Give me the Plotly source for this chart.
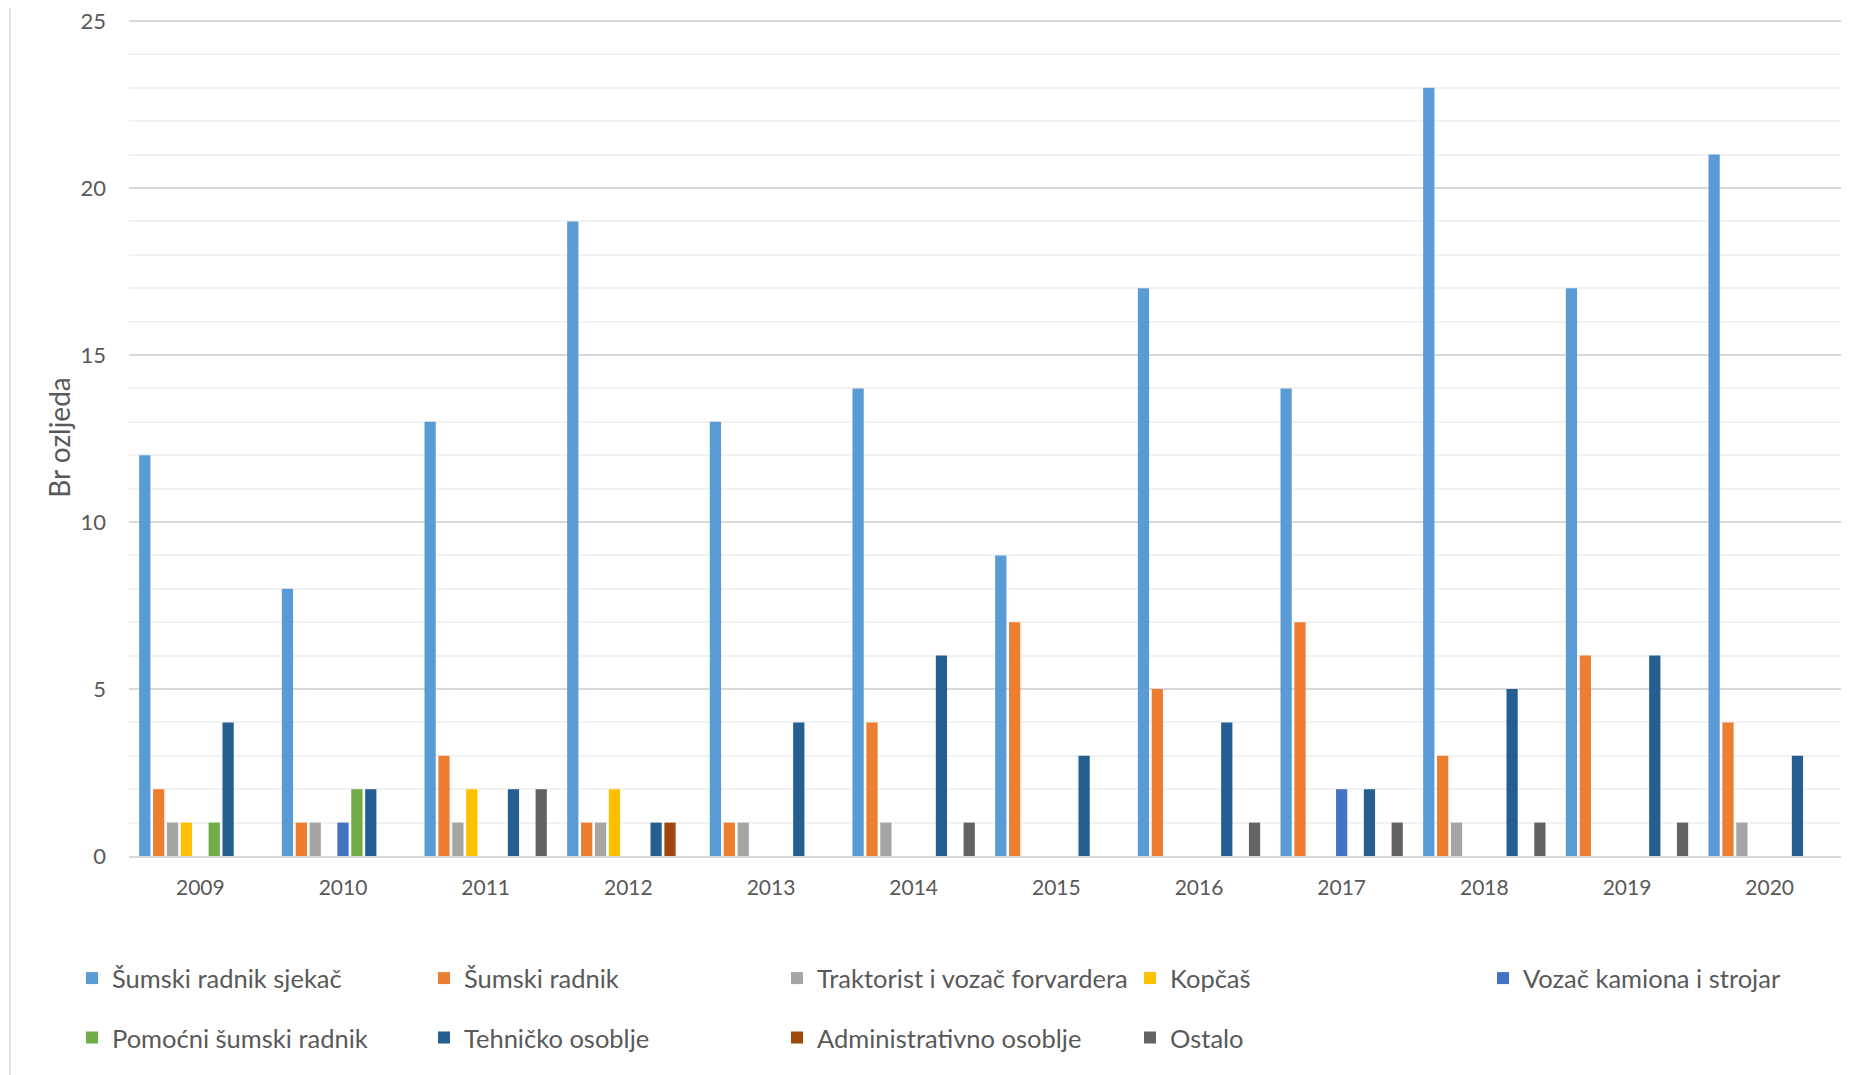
import plotly.graph_objects as go

years = ["2009", "2010", "2011", "2012", "2013", "2014", "2015", "2016", "2017", "2018", "2019", "2020"]

sumski_radnik_sjekac = [12, 8, 13, 19, 13, 14, 9, 17, 14, 23, 17, 21]
sumski_radnik = [2, 1, 3, 1, 1, 4, 7, 5, 7, 3, 6, 4]
traktorist = [1, 1, 1, 1, 1, 1, 0, 0, 0, 1, 0, 1]
kopcas = [1, 0, 2, 2, 0, 0, 0, 0, 0, 0, 0, 0]
vozac_kamiona = [0, 1, 0, 0, 0, 0, 0, 0, 2, 0, 0, 0]
pomocni = [1, 2, 0, 0, 0, 0, 0, 0, 0, 0, 0, 0]
tehnicko = [4, 2, 2, 1, 4, 6, 3, 4, 2, 5, 6, 3]
administrativno = [0, 0, 0, 1, 0, 0, 0, 0, 0, 0, 0, 0]
ostalo = [0, 0, 2, 0, 0, 1, 0, 1, 1, 1, 1, 0]

series_names = [
    "Šumski radnik sjekač", "Šumski radnik", "Traktorist i vozač forvardera", "Kopčaš",
    "Vozač kamiona i strojar", "Pomoćni šumski radnik", "Tehničko osoblje",
    "Administrativno osoblje", "Ostalo",
]
series_values = [sumski_radnik_sjekac, sumski_radnik, traktorist, kopcas, vozac_kamiona,
                 pomocni, tehnicko, administrativno, ostalo]
colors = ["#5B9BD5", "#ED7D31", "#A5A5A5", "#FFC000", "#4472C4",
          "#70AD47", "#255E91", "#9E480E", "#636363"]

# page body has an 8px margin; figure sized to fill the rest of the window
OFF = 8
W, H = 1865 - OFF, 1075 - OFF
L, R, T, B = 129 - OFF, 24, 19 - OFF, 219
PW = W - L - R
PH = H - T - B

font_family = "Lato, 'Open Sans', sans-serif"
txt = "#595959"


def px_x(px):
    return (px - OFF - L) / PW


def px_y(py):
    return (H - B - (py - OFF)) / PH


# legend layout: 5 columns on first row, 4 on second
col_centers = [95, 447, 800, 1153, 1506]
row_centers = [979.5 - 1, 1039 - 1]

fig = go.Figure()
legend_defs = {}
for i, (name, vals, col) in enumerate(zip(series_names, series_values, colors)):
    lname = "legend" if i == 0 else f"legend{i + 1}"
    fig.add_trace(go.Bar(
        x=years, y=vals, name=name, marker=dict(color=col, line=dict(width=0)),
        legend=lname,
    ))
    row = 0 if i < 5 else 1
    c = i if i < 5 else i - 5
    legend_defs[lname] = dict(
        x=px_x(col_centers[c] - 23), y=px_y(row_centers[row]),
        xanchor="left", yanchor="middle", orientation="h",
        font=dict(family=font_family, size=25.5, color=txt),
        bgcolor="rgba(0,0,0,0)", borderwidth=0,
    )

fig.update_layout(
    width=W, height=H,
    margin=dict(l=L, r=R, t=T, b=B, autoexpand=False),
    paper_bgcolor="white", plot_bgcolor="white",
    barmode="group", bargap=0.124, bargroupgap=0.19,
    font=dict(family=font_family, color=txt),
    xaxis=dict(
        type="category", showgrid=False, showline=True, linecolor="#D9D9D9", linewidth=2,
        ticks="", tickfont=dict(size=21, color=txt), ticklabelstandoff=12,
    ),
    yaxis=dict(
        range=[0, 25.06], tickvals=[0, 5, 10, 15, 20, 25], showgrid=True,
        gridcolor="#D9D9D9", gridwidth=1.5, zeroline=False, showline=False,
        minor=dict(dtick=1, showgrid=True, gridcolor="#F2F2F2", gridwidth=1.5),
        tickfont=dict(size=22, color=txt), ticklabelstandoff=22,
        ticklabeloverflow="allow",
        title=dict(text="Br ozljeda", font=dict(size=28, color=txt), standoff=1),
    ),
    showlegend=True,
    shapes=[dict(type="line", xref="paper", yref="paper",
                 x0=px_x(10), x1=px_x(10), y0=px_y(1075), y1=px_y(OFF),
                 line=dict(color="#D9D9D9", width=1.5))],
    **legend_defs,
)

fig.write_html("out.html")
